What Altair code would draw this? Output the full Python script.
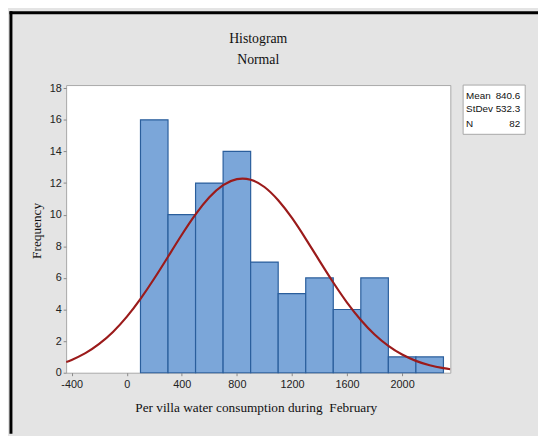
import altair as alt
import pandas as pd

# Histogram bins (start, end) and frequencies
bin_start = [100, 300, 500, 700, 900, 1100, 1300, 1500, 1700, 1900, 2100]
bin_end = [300, 500, 700, 900, 1100, 1300, 1500, 1700, 1900, 2100, 2300]
counts = [16, 10, 12, 14, 7, 5, 6, 4, 6, 1, 1]

# Fitted normal curve
curve_x = [-440, -400, -300, -200, -100, 0, 100, 200, 300, 400, 500, 600, 700,
           800, 900, 1000, 1100, 1200, 1300, 1400, 1500, 1600, 1700, 1800,
           1900, 2000, 2100, 2200, 2300, 2350]
curve_y = [0.68, 0.81, 1.24, 1.82, 2.58, 3.53, 4.67, 5.96, 7.34, 8.73, 10.02,
           11.10, 11.87, 12.25, 12.21, 11.75, 10.91, 9.79, 8.47, 7.08, 5.71,
           4.44, 3.34, 2.42, 1.70, 1.15, 0.75, 0.47, 0.29, 0.22]

x_ticks = [-400, 0, 400, 800, 1200, 1600, 2000]
y_ticks = [0, 2, 4, 6, 8, 10, 12, 14, 16, 18]

stat_labels = ["Mean", "StDev", "N"]
stat_values = ["840.6", "532.3", "82"]

title_lines = ["Histogram", "Normal"]
x_title = "Per villa water consumption during\u00a0 February"
y_title = "Frequency"

W, H = 390, 292

bars_df = pd.DataFrame({"start": bin_start, "end": bin_end, "count": counts})
curve_df = pd.DataFrame({"x": curve_x, "y": curve_y})
stats_df = pd.DataFrame({"label": stat_labels, "value": stat_values,
                         "row": [11, 24, 40]})
one = pd.DataFrame({"a": [0]})

xscale = alt.Scale(domain=[-440, 2350], nice=False, zero=False)
yscale = alt.Scale(domain=[0, 18.2], nice=False)

xaxis = alt.Axis(values=x_ticks, title=None, grid=False, domain=False,
                 labelExpr="(datum.value < 0 ? '-' : '') + abs(datum.value)",
                 tickColor="#888888", tickSize=3, labelFont="Liberation Sans",
                 labelFontSize=11, labelColor="#222222", labelPadding=3,
                 labelOverlap=False)
yaxis = alt.Axis(values=y_ticks, title=None, grid=False, domain=False, format="d",
                 tickColor="#888888", tickSize=3, labelFont="Liberation Sans",
                 labelFontSize=11, labelColor="#222222", labelPadding=2,
                 labelOverlap=False)

bars = alt.Chart(bars_df).mark_rect(
    fill="#7ba6d9", stroke="#2a5e9c", strokeWidth=1.2
).encode(
    x=alt.X("start:Q", scale=xscale, axis=xaxis),
    x2="end:Q",
    y=alt.Y("count:Q", scale=yscale, axis=yaxis),
    y2=alt.datum(0),
)

curve = alt.Chart(curve_df).mark_line(
    color="#9b1b1b", strokeWidth=2.2, interpolate="natural", clip=True
).encode(
    x=alt.X("x:Q", scale=xscale, axis=xaxis),
    y=alt.Y("y:Q", scale=yscale, axis=yaxis),
)

t1 = alt.Chart(one).mark_text(
    text=title_lines[0], font="Liberation Serif", fontSize=14, color="#111111"
).encode(x=alt.value(W / 2), y=alt.value(-47))
t2 = alt.Chart(one).mark_text(
    text=title_lines[1], font="Liberation Serif", fontSize=14, color="#111111"
).encode(x=alt.value(W / 2), y=alt.value(-25))

xt = alt.Chart(one).mark_text(
    text=x_title, font="Liberation Serif", fontSize=13.5, color="#111111"
).encode(x=alt.value(W / 2 - 2), y=alt.value(H + 36))

yt = alt.Chart(one).mark_text(
    text=y_title, font="Liberation Serif", fontSize=13.5, color="#111111", angle=270
).encode(x=alt.value(-30), y=alt.value(H / 2 + 2))

box = alt.Chart(one).mark_rect(
    fill="white", stroke="#a8a8a8", strokeWidth=1
).encode(x=alt.value(403), x2=alt.value(466), y=alt.value(0), y2=alt.value(50))

stat_lab = alt.Chart(stats_df).mark_text(
    align="left", baseline="middle", font="Liberation Sans Narrow, Liberation Sans",
    fontSize=10, color="#111111"
).encode(x=alt.value(406), y=alt.Y("row:Q", scale=None), text="label:N")

stat_val = alt.Chart(stats_df).mark_text(
    align="right", baseline="middle", font="Liberation Sans Narrow, Liberation Sans",
    fontSize=10, color="#111111"
).encode(x=alt.value(461), y=alt.Y("row:Q", scale=None), text="value:N")

border_left = alt.Chart(one).mark_rule(color="black", strokeWidth=3).encode(
    x=alt.value(-56), y=alt.value(-75), y2=alt.value(H + 62)
)
border_top = alt.Chart(one).mark_rule(color="black", strokeWidth=3).encode(
    x=alt.value(-57.5), x2=alt.value(W + 90), y=alt.value(-73.5)
)

chart = alt.layer(
    bars, curve, t1, t2, xt, yt, box, stat_lab, stat_val, border_left, border_top
).properties(
    width=W, height=H,
    autosize=alt.AutoSizeParams(type="none"),
    padding={"left": 59, "top": 75, "right": 89, "bottom": 61},
    background="#e4e4e4",
).configure_view(
    fill="white", stroke="#a8a8a8", strokeWidth=1
)

chart.save("out.html", embed_options={"renderer": "svg", "actions": False})
